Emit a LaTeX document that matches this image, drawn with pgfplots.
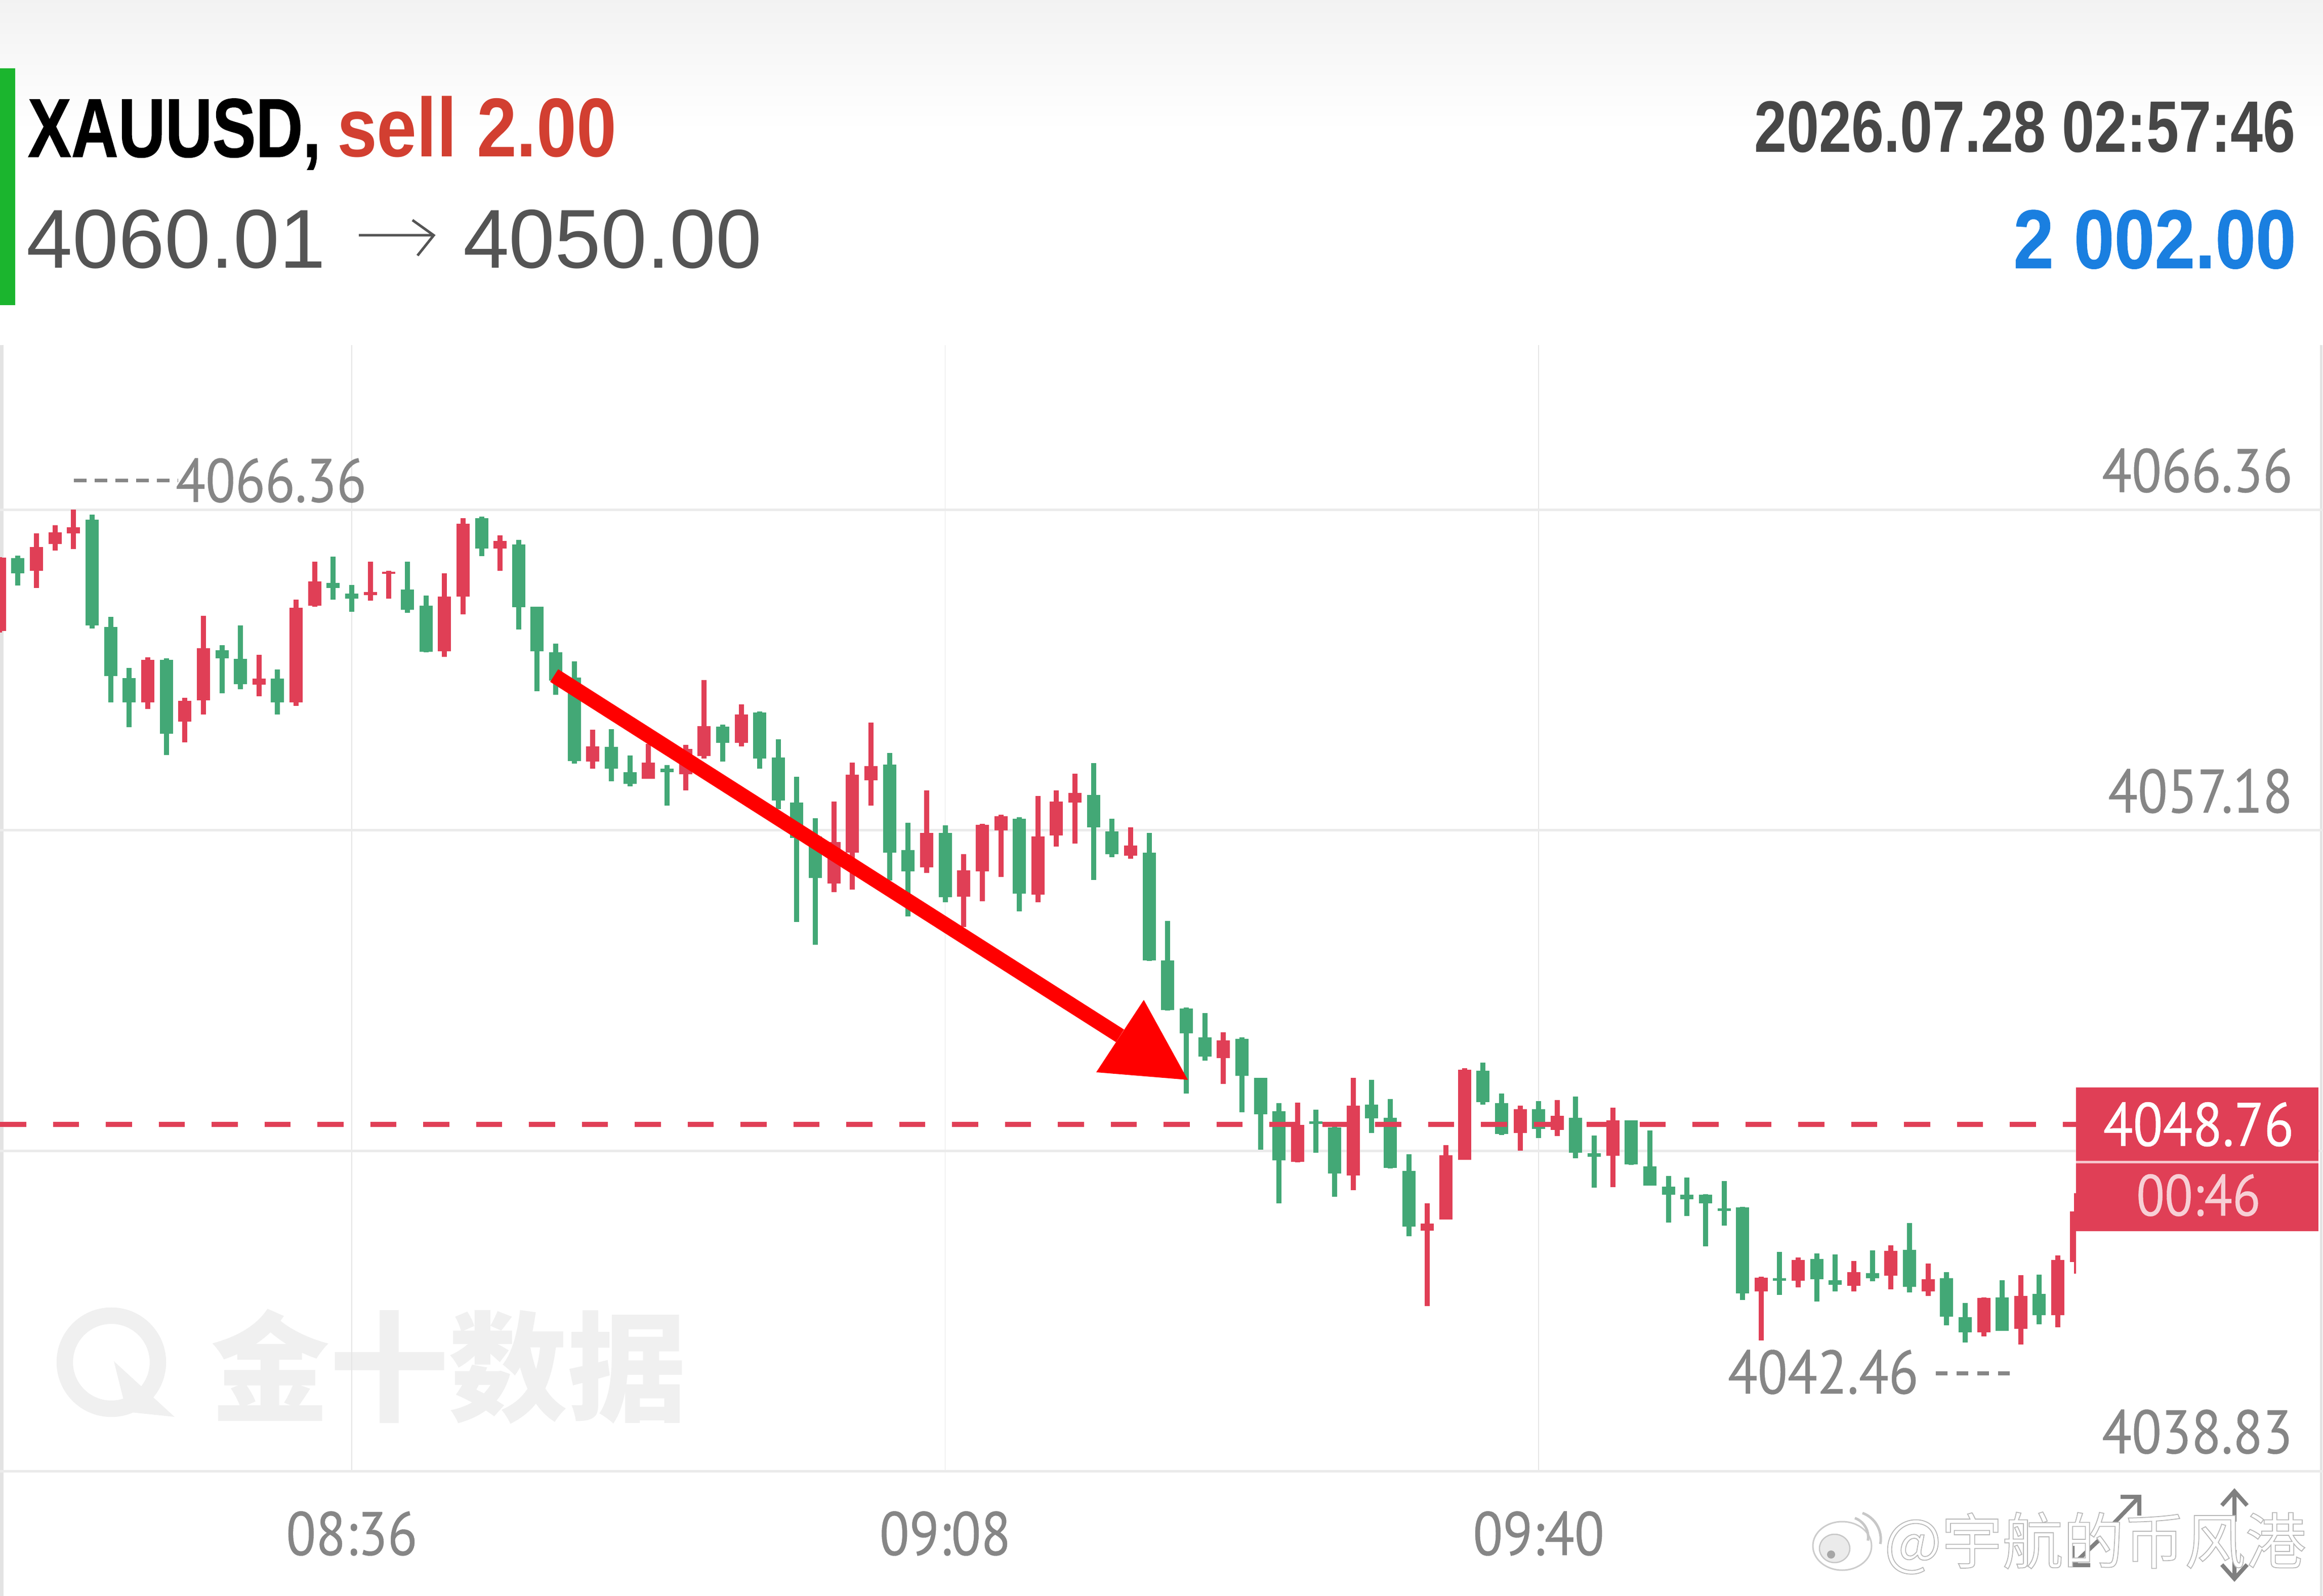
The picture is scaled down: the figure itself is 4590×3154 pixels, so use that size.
\documentclass[border=0pt]{standalone}
\usepackage{fontspec}
\usepackage{pgfplots}
\usepackage{pgfplotstable}
\pgfplotsset{compat=1.18}
\setmainfont{Liberation Sans}
\newfontfamily\din[FakeStretch=0.89,FakeBold=0.35]{PT Sans}
\newfontfamily\hx[FakeStretch=0.78,BoldFeatures={FakeBold=0.8}]{Liberation Sans}
\newfontfamily\hs[FakeStretch=0.86]{Liberation Sans}
\newfontfamily\hp[FakeStretch=0.99]{Liberation Sans}
\newfontfamily\hd[FakeStretch=0.80]{Liberation Sans}
\newfontfamily\hb[FakeStretch=0.87,BoldFeatures={FakeBold=0.5}]{Liberation Sans}
\newfontfamily\cjk{Noto Sans CJK SC}
\definecolor{cgreen}{HTML}{43A876}
\definecolor{cred}{HTML}{E03F56}
\definecolor{labgray}{HTML}{868686}
\definecolor{barg}{HTML}{1BB52E}
\definecolor{sellr}{HTML}{D23F31}
\definecolor{profit}{HTML}{1A7FE0}
% x = minutes after 08:36; wick low, body bottom, body top, wick high
\pgfplotstableread{
x lo bot top hi
-19 4062.85 4062.89 4064.99 4065.00
-17 4064.12 4064.61 4065.30 4065.68
-16 4065.19 4065.38 4065.72 4065.92
-15 4065.23 4065.69 4065.86 4066.36
-11 4060.65 4060.85 4062.06 4062.14
-9 4059.70 4060.29 4060.89 4060.97
-8 4060.50 4060.90 4062.39 4063.32
-5 4061.02 4061.35 4061.52 4062.21
-3 4060.75 4060.84 4063.55 4063.79
-2 4063.58 4063.61 4064.31 4064.88
1 4063.76 4063.91 4064.00 4064.87
2 4063.81 4064.52 4064.59 4064.61
5 4062.15 4062.31 4063.88 4064.54
6 4063.36 4063.88 4065.96 4066.12
8 4064.61 4065.25 4065.47 4065.63
13 4058.94 4059.15 4059.59 4060.06
16 4058.65 4058.66 4059.12 4059.65
18 4058.33 4058.79 4059.51 4059.62
19 4059.24 4059.31 4060.17 4061.48
21 4059.59 4059.69 4060.50 4060.78
26 4055.41 4055.65 4056.85 4058.01
27 4055.48 4056.54 4058.77 4059.12
28 4057.89 4058.61 4059.02 4060.26
31 4055.96 4056.12 4057.10 4058.32
33 4054.41 4055.28 4056.04 4056.49
34 4055.15 4056.00 4057.34 4057.36
35 4055.84 4057.18 4057.58 4057.63
37 4055.12 4055.34 4057.00 4058.17
38 4056.72 4057.04 4058.00 4058.32
39 4056.80 4057.98 4058.25 4058.80
42 4056.37 4056.46 4056.75 4057.26
47 4049.92 4050.65 4051.17 4051.39
51 4047.67 4047.68 4048.74 4049.38
54 4046.87 4047.30 4049.29 4050.09
58 4043.56 4045.71 4045.92 4046.50
59 4046.03 4046.04 4047.87 4048.16
60 4047.74 4047.75 4050.33 4050.37
63 4048.00 4048.51 4049.19 4049.29
65 4048.43 4048.60 4049.00 4049.45
68 4046.96 4047.86 4048.88 4049.24
76 4042.57 4043.98 4044.37 4044.39
78 4044.09 4044.28 4044.88 4044.95
81 4043.97 4044.14 4044.53 4044.85
83 4044.03 4044.42 4045.13 4045.29
85 4043.84 4043.97 4044.33 4044.77
88 4042.69 4042.80 4043.79 4043.80
90 4042.46 4042.91 4043.84 4044.44
92 4042.95 4043.29 4044.87 4045.00
93 4044.48 4044.81 4046.26 4046.78
}\redtable
\pgfplotstableread{
x lo bot top hi
-18 4064.19 4064.54 4064.97 4065.05
-14 4062.96 4063.05 4066.08 4066.22
-13 4060.84 4061.60 4063.00 4063.30
-12 4060.14 4060.85 4061.54 4061.83
-10 4059.34 4059.95 4062.06 4062.10
-7 4061.10 4062.11 4062.33 4062.48
-6 4061.22 4061.36 4062.09 4063.05
-4 4060.50 4060.85 4061.53 4061.78
-1 4063.79 4064.12 4064.26 4065.02
0 4063.44 4063.82 4063.96 4064.20
3 4063.41 4063.50 4064.07 4064.87
4 4062.28 4062.29 4063.61 4063.90
7 4065.03 4065.25 4066.12 4066.16
9 4062.93 4063.57 4065.36 4065.49
10 4061.17 4062.31 4063.58 4063.59
11 4061.06 4061.47 4062.28 4062.53
12 4059.09 4059.17 4061.56 4062.02
14 4058.58 4058.94 4059.57 4060.07
15 4058.44 4058.51 4058.85 4059.32
17 4057.89 4058.84 4058.95 4059.05
20 4059.15 4059.69 4060.15 4060.21
22 4058.94 4059.24 4060.55 4060.58
23 4057.79 4058.04 4059.27 4059.78
24 4054.56 4056.96 4057.97 4058.72
25 4053.90 4055.82 4057.01 4057.52
29 4055.74 4056.54 4059.06 4059.39
30 4054.71 4056.01 4056.61 4057.40
32 4055.12 4055.27 4057.11 4057.32
36 4054.86 4055.36 4057.51 4057.56
40 4055.76 4057.26 4058.19 4059.11
41 4056.41 4056.50 4057.15 4057.51
43 4053.44 4053.46 4056.54 4057.10
44 4052.02 4052.03 4053.46 4054.58
45 4049.64 4051.37 4052.07 4052.11
46 4050.58 4050.70 4051.25 4051.95
48 4049.11 4050.15 4051.21 4051.25
49 4048.03 4049.05 4050.09 4050.09
50 4046.49 4047.73 4049.13 4049.36
52 4047.94 4048.77 4048.84 4049.18
53 4046.69 4047.35 4048.67 4048.70
55 4048.51 4048.93 4049.33 4050.04
56 4047.49 4047.51 4048.95 4049.48
57 4045.55 4045.83 4047.42 4047.91
61 4049.33 4049.40 4050.30 4050.52
62 4048.46 4048.48 4049.36 4049.64
64 4048.36 4048.63 4049.20 4049.43
66 4047.79 4047.94 4048.95 4049.55
67 4046.94 4047.83 4047.93 4048.44
69 4047.60 4047.61 4048.87 4048.88
70 4047.00 4047.01 4047.56 4048.59
71 4045.95 4046.75 4046.97 4047.28
72 4046.14 4046.61 4046.74 4047.23
73 4045.27 4046.49 4046.75 4046.76
74 4045.86 4046.28 4046.35 4047.14
75 4043.73 4043.92 4046.38 4046.40
77 4043.87 4044.28 4044.35 4045.11
79 4043.68 4044.32 4044.91 4045.06
80 4043.98 4044.16 4044.29 4045.03
82 4044.27 4044.35 4044.50 4045.15
84 4043.95 4044.11 4045.16 4045.93
86 4043.01 4043.25 4044.35 4044.52
87 4042.51 4042.80 4043.23 4043.64
89 4042.84 4042.85 4043.80 4044.29
91 4043.03 4043.29 4043.90 4044.45
}\greentable
\begin{document}
\begin{tikzpicture}[x=0.2pt,y=-0.2pt]
\path[use as bounding box] (0,0) rectangle (4590,3154);
\clip (0,0) rectangle (4590,3154);
% repost watermark text is set first, so that no emboldened font has touched the text state
% header
\shade[top color=black!5,bottom color=white] (0,0) rectangle (4590,260);
\fill[barg] (0,135) rectangle (30,603);
\node[anchor=base west,inner sep=0pt,text=black] at (54,310) {\hx\bfseries\fontsize{33pt}{36pt}\selectfont XAUUSD,};
\node[anchor=base west,inner sep=0pt,text=sellr] at (665,310) {\hs\bfseries\fontsize{33pt}{36pt}\selectfont sell 2.00};
\node[anchor=base west,inner sep=0pt,text=black!67] at (52,530) {\hp\fontsize{33pt}{36pt}\selectfont 4060.01};
\node[anchor=base west,inner sep=0pt,text=black!67] at (914,530) {\hp\fontsize{33pt}{36pt}\selectfont 4050.00};
\draw[black!67,line width=1pt] (709,465) -- (857,465) (815,435) -- (857,465) -- (825,505);
\node[anchor=base east,inner sep=0pt,text=black!72] at (4537,301) {\hd\bfseries\fontsize{28.8pt}{32pt}\selectfont 2026.07.28 02:57:46};
\node[anchor=base east,inner sep=0pt,text=profit] at (4538,530) {\hb\bfseries\fontsize{33pt}{36pt}\selectfont 2 002.00};
% frame lines
\draw[black!11,line width=1.4pt] (3,682) -- (3,3154);
\draw[black!11,line width=1pt] (4586,682) -- (4586,3154);
% background mark of the data provider
\begin{scope}[black!6]
\draw[line width=6.5pt] (220,2692) circle (92);
\fill (225,2690) -- (345,2800) -- (250,2790) -- cycle;
\node[anchor=base west,inner sep=0pt,text=black!6] at (415,2790) {\cjk\bfseries\fontsize{47pt}{50pt}\selectfont 金十数据};
\end{scope}
\begin{axis}[
  at={(0pt,-581.4pt)},anchor=south west,
  scale only axis,width=918pt,height=445pt,
  xmin=-18.968,xmax=106.3,ymin=4038.83,ymax=4071.076,
  axis line style={draw=none},major tick length=0pt,
  xtick={0,32,64},xticklabels={08:36,09:08,09:40},
  ytick={4038.83,4048,4057.18,4066.36},
  yticklabels={4038.83,,4057.18,4066.36},
  yticklabel pos=right,
  xmajorgrids,ymajorgrids,
  x grid style={black!10,line width=0.35pt},
  y grid style={black!8,line width=1pt},
  x tick label style={font=\din\fontsize{24.3pt}{26pt}\selectfont,text=labgray,anchor=base,yshift=-33.2pt},
  y tick label style={font=\din\fontsize{24.3pt}{26pt}\selectfont,text=labgray,anchor=base east,xshift=-8.5pt,yshift=7pt},
]
\addplot[forget plot,no markers,draw=cred,line width=2pt,quiver={u=0,v=\thisrow{hi}-\thisrow{lo}}] table[x=x,y=lo] {\redtable};
\addplot[forget plot,no markers,draw=cred,line width=5.2pt,quiver={u=0,v=\thisrow{top}-\thisrow{bot}}] table[x=x,y=bot] {\redtable};
\addplot[forget plot,no markers,draw=cgreen,line width=2pt,quiver={u=0,v=\thisrow{hi}-\thisrow{lo}}] table[x=x,y=lo] {\greentable};
\addplot[forget plot,no markers,draw=cgreen,line width=5.2pt,quiver={u=0,v=\thisrow{top}-\thisrow{bot}}] table[x=x,y=bot] {\greentable};
\addplot[forget plot,no markers,draw=cred,line width=2pt,dash pattern=on 10.3pt off 10.6pt] coordinates {(-18.968,4048.76) (93,4048.76)};
\end{axis}
% the last candle stops at the price column
\fill[white] (4102,2433) rectangle (4135,2700);
% extreme labels
\node[anchor=base east,inner sep=0pt,text=labgray] at (725,992) {\din\fontsize{24.3pt}{26pt}\selectfont 4066.36};
\draw[labgray,line width=1.4pt,dash pattern=on 5pt off 3.2pt] (146,950) -- (352,950);
\node[anchor=base west,inner sep=0pt,text=labgray] at (3413,2754) {\din\fontsize{24.3pt}{26pt}\selectfont 4042.46};
\draw[labgray,line width=1.6pt,dash pattern=on 4.6pt off 3.6pt] (3825,2714) -- (3975,2714);
% price box
\fill[cred] (4102,2149) rectangle (4581,2433);
\draw[white!70!cred,line width=1pt] (4102,2296) -- (4581,2296);
\node[text=white,inner sep=0pt] at (4344,2222) {\din\fontsize{24.3pt}{26pt}\selectfont 4048.76};
\node[text=white!75!cred,inner sep=0pt] at (4344,2362) {\din\fontsize{23pt}{26pt}\selectfont 00:46};
% red arrow
\draw[red,line width=5.9pt] (1095,1335) -- (2213,2047);
\fill[red] (2347,2134) -- (2260,1976) -- (2166,2119) -- cycle;
% corner icons
\begin{scope}[black!50,line width=1.6pt]
\draw (4174,3013) -- (4227,2958) (4190,2958) -- (4227,2958) -- (4227,2995);
\draw (4151,3040) -- (4095,3093) (4095,3055) -- (4095,3093) -- (4130,3093);
\draw (4415,3007) -- (4415,2947) (4390,2975) -- (4415,2947) -- (4440,2975);
\draw (4415,3063) -- (4415,3120) (4390,3092) -- (4415,3120) -- (4440,3092);
\end{scope}
% repost watermark
\begin{scope}
\filldraw[draw=black!20,fill=white,line width=0.6pt] (3640,3055) ellipse (58 and 48);
\filldraw[draw=black!22,fill=black!8,line width=0.5pt] (3625,3060) ellipse (30 and 28);
\fill[black!35] (3618,3072) circle (8);
\draw[black!22,line width=1pt] (3665,3000) arc (-70:10:40);
\draw[black!22,line width=1pt] (3680,2990) arc (-70:10:55);
\node[anchor=base west,inner sep=0pt,text=white] at (3722,3090) {\special{pdf:code q 2 Tr 0.35 w 0.72 0.72 0.72 RG}\cjk\fontsize{24pt}{26pt}\selectfont @宇航的币风港\special{pdf:code Q}};
\end{scope}
\end{tikzpicture}
\end{document}
